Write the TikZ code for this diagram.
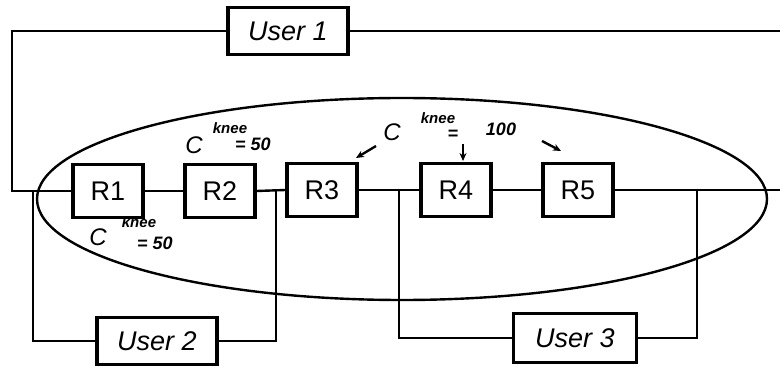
\documentclass[tikz,border=0pt]{standalone}
\usepackage{fontspec}
\setmainfont{Liberation Sans}
\usetikzlibrary{arrows.meta}
\begin{document}
\begin{tikzpicture}[x=1pt,y=-1pt,
  router/.style={draw,line width=3.2pt,minimum width=70pt,minimum height=53pt,inner sep=0pt,font=\fontsize{27}{30}\selectfont},
  user/.style={draw,line width=3.2pt,minimum width=120pt,minimum height=47pt,inner sep=0pt,font=\fontsize{27}{30}\selectfont\itshape},
  wire/.style={line width=2.4pt},
  hand/.style={font=\fontsize{24}{26}\selectfont\itshape,inner sep=0pt},
  handval/.style={font=\fontsize{18}{20}\selectfont\itshape\bfseries,inner sep=0pt},
  handsup/.style={font=\fontsize{15}{16}\selectfont\itshape\bfseries,inner sep=0pt},
  pointer/.style={line width=2.4pt,-{Stealth[length=8pt,width=7pt]}}]
\useasboundingbox (0,0) rectangle (780,366);

% routers on the backbone
\node[router] (R1) at (108,191) {R1};
\node[router] (R2) at (220,191) {R2};
\node[router] (R3) at (322,190) {R3};
\node[router] (R4) at (456,190) {R4};
\node[router] (R5) at (578,190) {R5};

% users
\node[user] (U1) at (288,31) {User 1};
\node[user] (U2) at (157,341) {User 2};
\node[user,minimum width=123pt,minimum height=49pt] (U3) at (575,338) {User 3};

% junction points
\coordinate (lft) at (12,191);
\coordinate (j1) at (33,191);
\coordinate (j2) at (276,191);
\coordinate (j3) at (399,190);
\coordinate (j4) at (697,190);
\coordinate (rgt) at (780,190);
\coordinate (u1r) at (780,31);

% network region
\draw[line width=2.4pt] (402,199) ellipse [x radius=365, y radius=101];

% backbone
\draw[wire] (U1.west) -| (lft) -- (R1.west);
\draw[wire] (U1.east) -- (u1r);
\draw[wire] (R1.east) -- (R2.west);
\draw[wire] (R2.east) -- (R3.west);
\draw[wire] (R3.east) -- (R4.west);
\draw[wire] (R4.east) -- (R5.west);
\draw[wire] (R5.east) -- (rgt);

% user attachments
\draw[wire] (j1) |- (U2.west);
\draw[wire] (U2.east) -| (j2);
\draw[wire] (j3) |- (U3.west);
\draw[wire] (U3.east) -| (j4);

% capacity annotations
\node[hand] (c1) at (194,145) {C};
\node[handsup] (k1) at (230,128) {knee};
\node[handval] (v1) at (253,144) {= 50};

\node[hand] (c2) at (98,237) {C};
\node[handsup] (k2) at (139,222) {knee};
\node[handval] (v2) at (155,243) {= 50};

\node[hand] (c3) at (392,132) {C};
\node[handsup] (k3) at (438,118) {knee};
\node[handval] (e3) at (453,135) {=};
\node[handval] (v3) at (501,129) {100};

\coordinate (a1s) at (376,146);
\coordinate (a1e) at (356,158);
\coordinate (a2s) at (463,144);
\coordinate (a2e) at (463,161);
\coordinate (a3s) at (542,141);
\coordinate (a3e) at (561,151);
\draw[pointer] (a1s) -- (a1e);
\draw[pointer] (a2s) -- (a2e);
\draw[pointer] (a3s) -- (a3e);
\end{tikzpicture}
\end{document}
